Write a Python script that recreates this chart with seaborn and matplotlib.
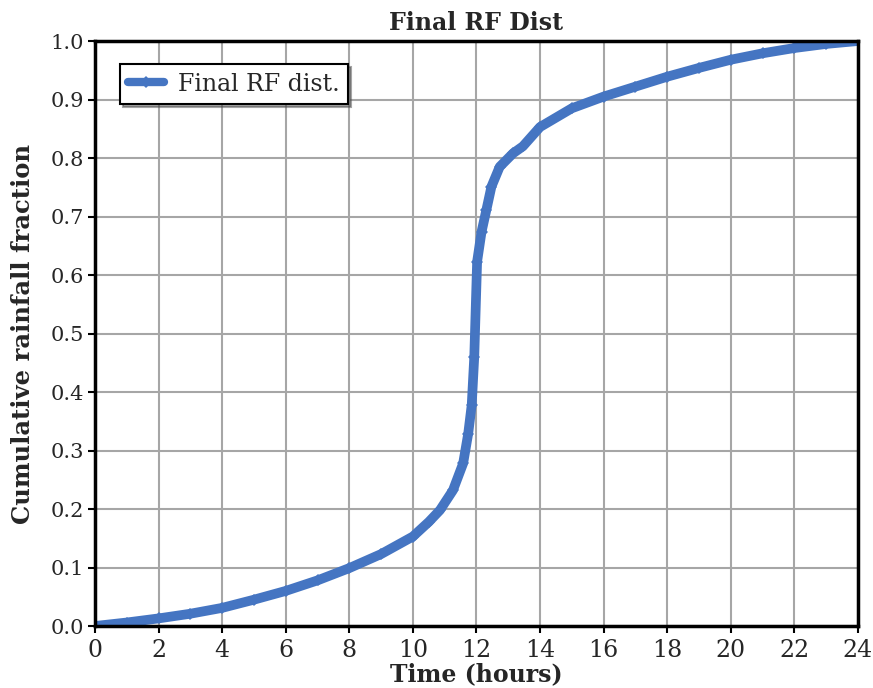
import matplotlib
matplotlib.use("Agg")
import matplotlib.pyplot as plt
import seaborn as sns
import pandas as pd

time_hours = [0, 1, 2, 3, 4, 5, 6, 7, 8, 9, 10, 10.5, 10.85, 11.26, 11.58, 11.74,
              11.85, 11.93, 12.02, 12.16, 12.31, 12.47, 12.73, 13.15, 13.46, 14,
              15, 16, 17, 18, 19, 20, 21, 22, 23, 24]
rain_fraction = [0, 0.006, 0.013, 0.021, 0.031, 0.045, 0.060, 0.078, 0.099, 0.123,
                 0.153, 0.178, 0.198, 0.232, 0.278, 0.329, 0.378, 0.46, 0.623, 0.674,
                 0.711, 0.751, 0.785, 0.808, 0.82, 0.853, 0.885, 0.905, 0.922, 0.939,
                 0.954, 0.968, 0.979, 0.988, 0.995, 1.0]
series_name = "Final RF dist."
x_ticks = list(range(0, 25, 2))
y_ticks = [i / 10 for i in range(11)]

sns.set_style("white")
plt.rcParams["font.family"] = ["DejaVu Serif"]

df = pd.DataFrame({"Time": time_hours, "Fraction": rain_fraction, "Series": series_name})

fig = plt.figure(figsize=(8.73, 6.88), dpi=100)
ax = fig.add_axes([0.1088, 0.0901, 0.8740, 0.8503])

sns.lineplot(data=df, x="Time", y="Fraction", hue="Series", palette=["#4575C2"],
             linewidth=7, marker="D", markersize=6, markeredgewidth=0,
             sort=False, ax=ax)

ax.set_xlim(0, 24)
ax.set_ylim(0, 1.0)
ax.set_xticks(x_ticks)
ax.set_yticks(y_ticks)
ax.set_yticklabels([f"{v:.1f}" for v in y_ticks])
ax.tick_params(axis="y", labelsize=15, direction="out", length=5, width=1.5,
               color="black", left=True, pad=3)
ax.tick_params(axis="x", labelsize=17, direction="out", length=5, width=1.5,
               color="black", bottom=True, pad=4)
ax.grid(True, color="#a6a6a6", linewidth=1.5)
ax.set_axisbelow(True)
for s in ax.spines.values():
    s.set_color("black")
    s.set_linewidth(2.5)
    s.set_visible(True)

ax.set_title("Final RF Dist", fontsize=17, fontweight="bold", pad=8)
ax.set_xlabel("Time (hours)", fontsize=17, fontweight="bold")
ax.xaxis.set_label_coords(0.5, -0.062)
ax.set_ylabel("Cumulative rainfall fraction", fontsize=17.5, fontweight="bold")
ax.yaxis.set_label_coords(-0.078, 0.5)

leg = ax.legend(loc="upper left", bbox_to_anchor=(0.033, 0.96), fontsize=17,
                frameon=True, fancybox=False, shadow=True, handlelength=1.5,
                handletextpad=0.6, borderaxespad=0, borderpad=0.35)
leg.get_frame().set_edgecolor("black")
leg.get_frame().set_linewidth(1.5)
for h in leg.get_lines():
    h.set_linewidth(6)
    h.set_markersize(6)

fig.savefig("out.png", dpi=100)
